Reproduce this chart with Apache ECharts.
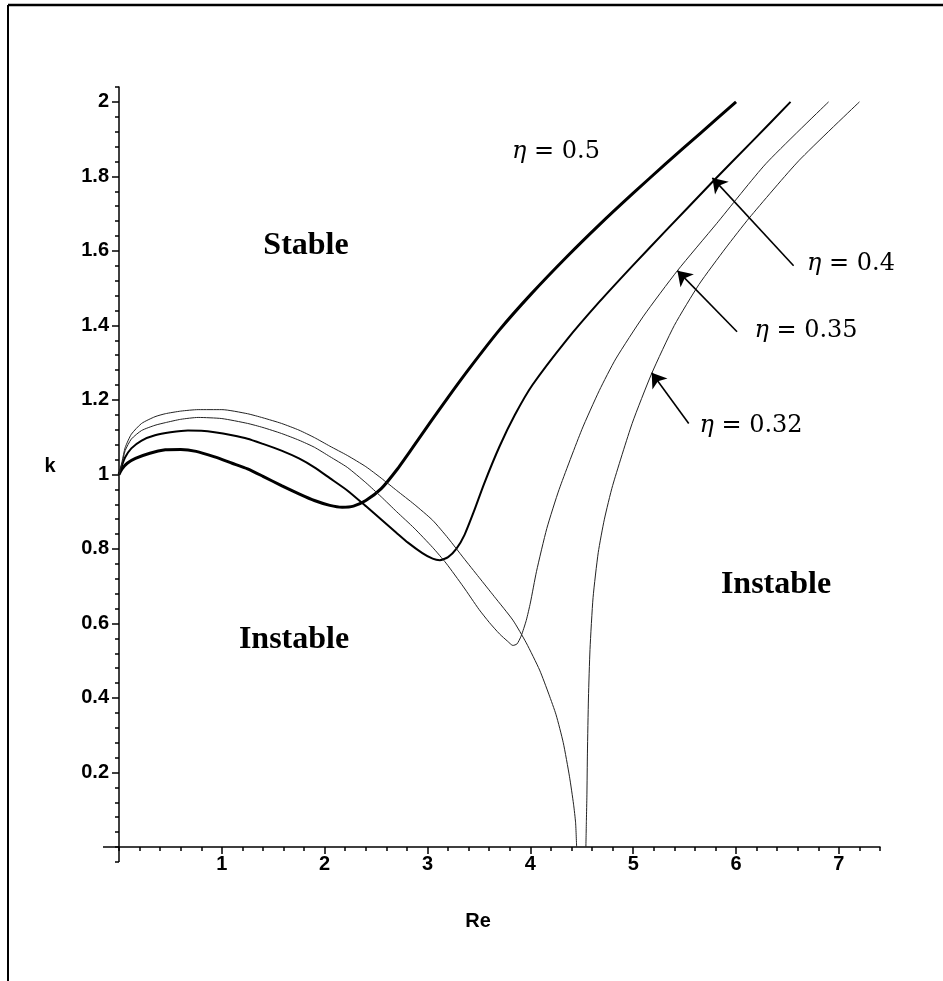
<!DOCTYPE html>
<html>
<head>
<meta charset="utf-8">
<script src="https://cdn.jsdelivr.net/npm/echarts@6/dist/echarts.min.js"></script>
<style>
  html, body { margin: 0; padding: 0; background: #fff; }
  #chart { width: 943px; height: 981px; }
</style>
</head>
<body>
<div id="chart"></div>
<script>
// tick labels
const xTicks = [1, 2, 3, 4, 5, 6, 7];
const yTicks = [0.2, 0.4, 0.6, 0.8, 1, 1.2, 1.4, 1.6, 1.8, 2];

// neutral curves k(Re)
const eta05 = [[0,1],[0.03,1.015],[0.08,1.03],[0.16,1.043],[0.3,1.057],[0.45,1.066],[0.6,1.067],
  [0.75,1.062],[0.93,1.047],[1.1,1.03],[1.25,1.015],[1.4,0.995],[1.58,0.97],[1.75,0.948],[1.9,0.93],
  [2.05,0.917],[2.17,0.912],[2.28,0.915],[2.4,0.93],[2.55,0.962],[2.7,1.012],[2.85,1.07],[3.04,1.145],
  [3.2,1.207],[3.4,1.282],[3.7,1.388],[4.0,1.482],[4.35,1.583],[4.67,1.67],[5.0,1.755],[5.32,1.835],
  [5.65,1.915],[6.0,2.0]];

const eta04 = [[0,1],[0.03,1.025],[0.06,1.046],[0.12,1.07],[0.22,1.091],[0.35,1.105],[0.5,1.113],
  [0.67,1.118],[0.8,1.117],[0.93,1.113],[1.1,1.105],[1.25,1.096],[1.4,1.082],[1.58,1.064],[1.75,1.043],
  [1.9,1.019],[2.05,0.99],[2.22,0.957],[2.4,0.915],[2.55,0.879],[2.7,0.843],[2.81,0.817],[2.95,0.789],
  [3.05,0.774],[3.12,0.77],[3.2,0.778],[3.28,0.8],[3.36,0.838],[3.45,0.9],[3.55,0.975],[3.7,1.075],
  [3.85,1.16],[4.02,1.24],[4.35,1.36],[4.67,1.463],[5.0,1.562],[5.32,1.655],[5.77,1.785],[6.15,1.892],
  [6.53,2.0]];

const eta035 = [[0,1],[0.03,1.03],[0.06,1.064],[0.12,1.095],[0.22,1.118],[0.35,1.132],[0.45,1.139],
  [0.6,1.148],[0.77,1.153],[1.0,1.15],[1.25,1.137],[1.4,1.126],[1.58,1.11],[1.75,1.092],[1.9,1.073],
  [2.05,1.048],[2.22,1.019],[2.4,0.978],[2.55,0.94],[2.7,0.9],[2.87,0.856],[3.05,0.804],[3.18,0.762],
  [3.35,0.698],[3.5,0.638],[3.6,0.603],[3.7,0.572],[3.78,0.552],[3.83,0.541],[3.87,0.545],[3.91,0.566],
  [3.96,0.608],[4.0,0.655],[4.06,0.74],[4.16,0.855],[4.28,0.96],[4.5,1.12],[4.67,1.225],[4.83,1.31],
  [5.1,1.425],[5.43,1.547],[5.81,1.673],[6.29,1.834],[6.9,2.0]];

const eta032Left = [[0,1],[0.03,1.035],[0.06,1.072],[0.12,1.108],[0.22,1.137],[0.35,1.155],[0.45,1.163],
  [0.6,1.17],[0.77,1.174],[1.0,1.174],[1.25,1.163],[1.4,1.152],[1.58,1.137],[1.75,1.119],[1.9,1.099],
  [2.05,1.076],[2.22,1.051],[2.4,1.021],[2.55,0.99],[2.7,0.957],[2.87,0.92],[3.05,0.877],[3.2,0.829],
  [3.35,0.776],[3.5,0.724],[3.65,0.672],[3.83,0.609],[3.96,0.548],[4.09,0.475],[4.18,0.41],[4.25,0.355],
  [4.32,0.28],[4.38,0.19],[4.42,0.115],[4.44,0.065],[4.45,0]];

const eta032Right = [[4.54,0],[4.545,0.072],[4.55,0.14],[4.555,0.252],[4.565,0.4],[4.58,0.53],[4.61,0.67],
  [4.66,0.79],[4.72,0.88],[4.8,0.97],[4.99,1.137],[5.18,1.271],[5.4,1.4],[5.64,1.51],[5.9,1.608],
  [6.13,1.689],[6.61,1.842],[7.2,2.0]];

const axisFont = { fontFamily: 'Liberation Sans', fontWeight: 'bold', fontSize: 20, color: '#000' };
const black = { color: '#000', width: 1.5 };

function curve(data, width, color) {
  return {
    type: 'line',
    data: data,
    xAxisIndex: 0,
    yAxisIndex: 0,
    showSymbol: false,
    symbol: 'none',
    smooth: 0.2,
    lineStyle: { color: color, width: width },
    silent: true
  };
}

function arrow(from, to) {
  return [{ coord: from }, { coord: to }];
}

function label(text, x, y) {
  return {
    type: 'text',
    x: x, y: y,
    style: {
      text: '{i|η} = ' + text,
      font: '24px "DejaVu Serif"',
      fill: '#000',
      align: 'center',
      verticalAlign: 'middle',
      rich: { i: { fontStyle: 'italic', fontFamily: 'DejaVu Serif', fontSize: 24 } }
    }
  };
}

function word(text, x, y) {
  return {
    type: 'text',
    x: x, y: y,
    style: {
      text: text,
      font: 'bold 32px "Liberation Serif"',
      fill: '#000',
      align: 'center',
      verticalAlign: 'middle'
    }
  };
}

let option = {
  animation: false,
  backgroundColor: '#fff',
  grid: { left: 119, right: 63, top: 87, bottom: 134 },
  xAxis: [
    {
      type: 'value', min: 0, max: 7.4, interval: 0.2,
      axisLine: { onZero: false, lineStyle: black },
      axisTick: { length: 4, lineStyle: black },
      axisLabel: { show: false },
      splitLine: { show: false }
    },
    {
      type: 'value', min: 0, max: 7.4, interval: 1, position: 'bottom',
      axisLine: { show: false, onZero: false },
      axisTick: { length: 7, lineStyle: black, customValues: xTicks },
      axisLabel: Object.assign({ margin: 7, customValues: xTicks }, axisFont),
      splitLine: { show: false }
    }
  ],
  yAxis: [
    {
      type: 'value', min: 0, max: 2.04, interval: 0.04,
      axisLine: { show: true, onZero: false, lineStyle: black },
      axisTick: { show: true, length: 4, lineStyle: black },
      axisLabel: { show: false },
      splitLine: { show: false }
    },
    {
      type: 'value', min: 0, max: 2.04, interval: 0.2, position: 'left',
      axisLine: { show: false, onZero: false },
      axisTick: { show: true, length: 7, lineStyle: black, customValues: yTicks },
      axisLabel: Object.assign({ margin: 10, customValues: yTicks }, axisFont),
      splitLine: { show: false }
    }
  ],
  series: [
    curve(eta05, 3, '#000'),
    curve(eta04, 2, '#000'),
    curve(eta035, 1, '#222'),
    curve(eta032Left, 1, '#222'),
    Object.assign(curve(eta032Right, 1, '#222'), {
      markLine: {
        silent: true,
        symbol: ['none', 'arrow'],
        symbolSize: 14,
        lineStyle: { color: '#000', width: 1.6, type: 'solid' },
        label: { show: false },
        data: [
          arrow([6.56, 1.56], [5.77, 1.796]),
          arrow([6.01, 1.383], [5.43, 1.547]),
          arrow([5.54, 1.137], [5.18, 1.273])
        ]
      }
    })
  ],
  graphic: [
    { type: 'line', shape: { x1: 8, y1: 5, x2: 943, y2: 5 }, style: { stroke: '#000', lineWidth: 2.5 } },
    { type: 'line', shape: { x1: 8, y1: 5, x2: 8, y2: 981 }, style: { stroke: '#000', lineWidth: 2 } },
    { type: 'line', shape: { x1: 103, y1: 847, x2: 119, y2: 847 }, style: { stroke: '#000', lineWidth: 1.5 } },
    { type: 'line', shape: { x1: 119, y1: 847, x2: 119, y2: 862 }, style: { stroke: '#000', lineWidth: 1.5 } },
    { type: 'line', shape: { x1: 115, y1: 862, x2: 119, y2: 862 }, style: { stroke: '#000', lineWidth: 1.5 } },
    { type: 'text', x: 50, y: 466, style: { text: 'k', font: 'bold 20px "Liberation Sans"', fill: '#000', align: 'center', verticalAlign: 'middle' } },
    { type: 'text', x: 478, y: 921, style: { text: 'Re', font: 'bold 20px "Liberation Sans"', fill: '#000', align: 'center', verticalAlign: 'middle' } },
    word('Stable', 306, 246),
    word('Instable', 294, 640),
    word('Instable', 776, 585),
    label('0.5', 556, 152),
    label('0.4', 851, 264),
    label('0.35', 806, 331),
    label('0.32', 751, 426)
  ]
};

const myChart = echarts.init(document.getElementById('chart'));
myChart.setOption(option);
window.addEventListener('resize', function () {
  myChart.resize();
});
</script>
</body>
</html>
